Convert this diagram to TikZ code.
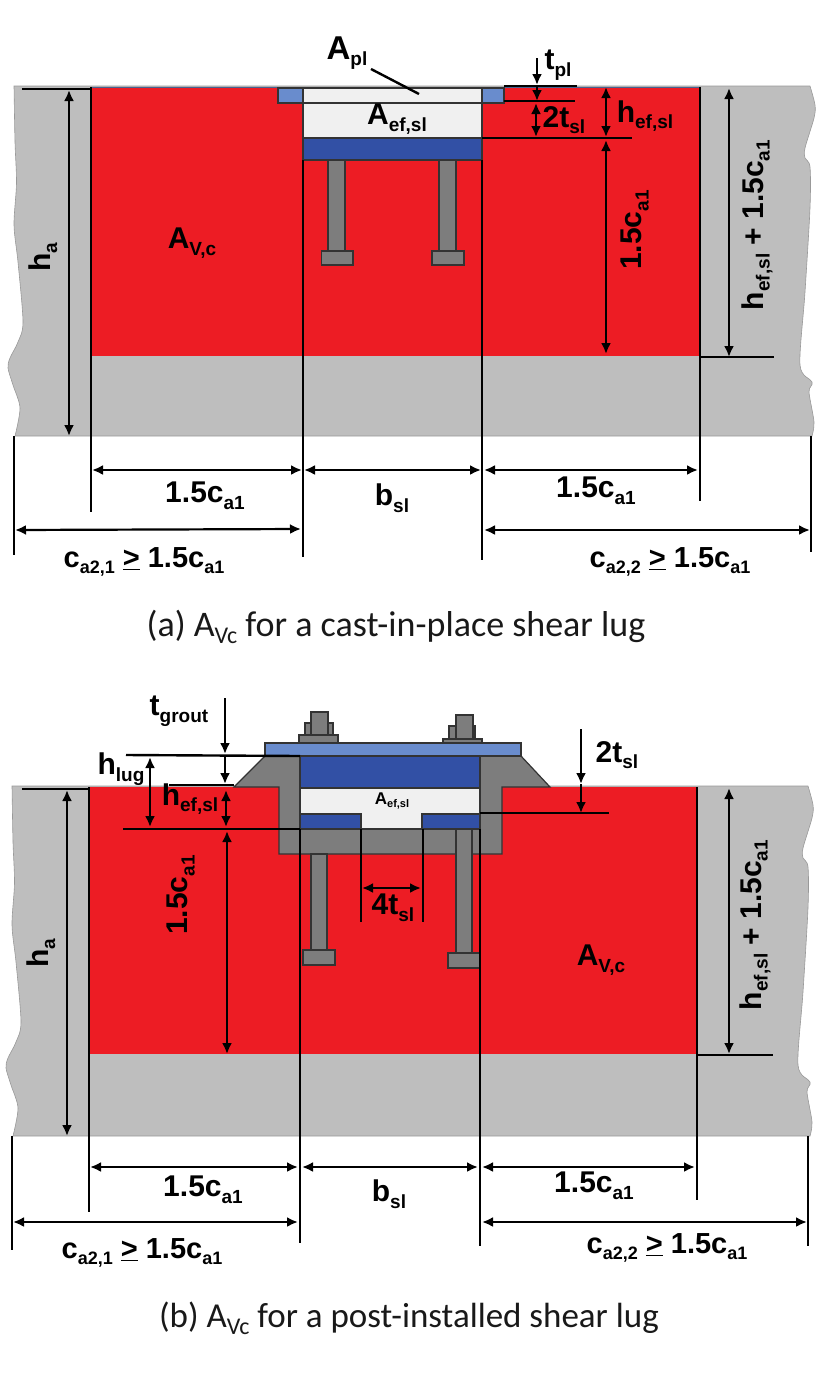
\documentclass[tikz,border=0pt]{standalone}
\usepackage{fontspec}
\setmainfont{Liberation Sans}
\newfontfamily\capfont{Carlito}
\usetikzlibrary{arrows.meta}
\definecolor{conc}{RGB}{190,190,190}
\definecolor{redz}{RGB}{237,28,36}
\definecolor{steel}{RGB}{125,125,125}
\definecolor{dblue}{RGB}{50,80,165}
\definecolor{lblue}{RGB}{105,140,205}
\definecolor{pale}{RGB}{240,240,240}
\newcommand{\lb}[2]{\textbf{#1\raisebox{-0.22em}{\fontsize{19}{19}\selectfont #2}}}
\newcommand{\lbs}[2]{\textbf{#1\raisebox{-0.22em}{\fontsize{18}{18}\selectfont #2}}}
\newcommand{\concrete}{%
  \fill[conc,draw=black!40,line width=.6pt] plot[smooth,tension=.5] coordinates {(14,86) (15,142) (16.5,183) (14,225) (18,262) (23,322) (18,342) (10,358) (8,368) (13,385) (20,408) (15,436)}
   -- plot[smooth,tension=.5] coordinates {(812,436) (814,422) (809,392) (812,382) (800,365) (805,292) (810,208) (810,167) (805,158) (805,148) (814,118) (815,105) (810,86)} -- cycle;}
\tikzset{
  lab/.style={font=\fontsize{30}{30}\selectfont\bfseries,inner sep=0pt,text=black},
  botlab/.style={lab,font=\fontsize{29}{29}\selectfont\bfseries},
  rotlab/.style={lab,rotate=90},
  capt/.style={font=\fontsize{36}{36}\selectfont\capfont,inner sep=0pt,text=black!90},
  ln/.style={line width=2.4pt,black},
  dim/.style={line width=2.2pt,black,{Latex[length=11pt,width=10pt]}-{Latex[length=11pt,width=10pt]}},
  arr/.style={line width=2.2pt,black,-{Latex[length=11pt,width=10pt]}},
  part/.style={draw=black!80,line width=1.2pt},
  stl/.style={part,fill=steel},
}
\begin{document}
\begin{tikzpicture}[x=1pt,y=-1pt]
\useasboundingbox (0,0) rectangle (827,1374);
% ---------- (a)
\concrete
\fill[redz] (91,87) rectangle (700,356);
\draw[lblue!70!black,line width=1pt] (91,87) -- (700,87);
\draw[stl,fill=lblue] (278,88) rectangle (504,103);
\draw[part,fill=pale] (303,88) rectangle (482,103);
\draw[part,fill=pale] (303,103) rectangle (482,138);
\draw[part,fill=dblue] (303,138) rectangle (482,160);
\draw[stl] (328,160) rectangle (345,251);
\draw[stl] (321.5,251) rectangle (353,265);
\draw[stl] (439,160) rectangle (456,251);
\draw[stl] (432,251) rectangle (464,265);
\draw[ln] (91,87) -- (91,512);
\draw[ln] (303,160) -- (303,557);
\draw[ln] (482,160) -- (482,560);
\draw[ln] (700,87) -- (700,501);
\draw[ln] (14,436) -- (14,555);
\draw[ln] (811,436) -- (811,552);
\draw[ln] (22,89) -- (91,89);
\draw[ln] (700,357) -- (774,357);
\draw[line width=1.6pt] (482,138) -- (632,138);
\draw[ln] (504,86) -- (577,86);
\draw[ln] (504,101) -- (575,101);
\draw[ln] (371,69) -- (419,94);
\draw[dim] (69,90) -- (69,436);
\draw[dim] (729,88) -- (729,357);
\draw[dim] (606,140) -- (606,354);
\draw[dim] (606,87) -- (606,137);
\draw[arr] (537,58) -- (537,85);
\draw[arr] (537,87) -- (537,101);
\draw[dim] (536,103) -- (536,137);
\draw[dim] (92,470) -- (302,470);
\draw[dim] (304,470) -- (481,470);
\draw[dim] (484,470) -- (698,470);
\draw[dim] (15,530) -- (301,529);
\draw[dim] (484,530) -- (810,530);
\node[lab] (a1) at (347,53) {\textbf{\fontsize{33}{33}\selectfont A}\lb{}{pl}};
\node[lab] (a2) at (558,65) {\lb{t}{pl}};
\node[lab] (a3) at (397,119) {\lb{A}{ef,sl}};
\node[lab] (a4) at (564,120) {\lb{2t}{sl}};
\node[lab] (a5) at (645,116) {\lb{h}{ef,sl}};
\node[lab] (a6) at (192,243) {\lb{A}{V,c}};
\node[rotlab] (a7) at (43,257) {\lb{h}{a}};
\node[rotlab] (a8) at (635,230) {\lb{1.5c}{a1}};
\node[rotlab] (a9) at (757,225) {\lb{h}{ef,sl} \lb{+ 1.5c}{a1}};
\node[lab] (a10) at (205,496) {\lb{1.5c}{a1}};
\node[lab] (a11) at (392,498) {\lb{b}{sl}};
\node[lab] (a12) at (596,491) {\lb{1.5c}{a1}};
\node[botlab] (a13) at (144,562) {\lbs{c}{a2,1}\ \underline{>}\ \lbs{1.5c}{a1}};
\node[botlab] (a14) at (670,562) {\lbs{c}{a2,2}\ \underline{>}\ \lbs{1.5c}{a1}};
\node[capt] (a15) at (396,627) {(a) A\raisebox{-0.2em}{\fontsize{24}{24}\selectfont Vc} for a cast-in-place shear lug};
% ---------- (b)
\begin{scope}[shift={(-2,700)}]\concrete\end{scope}
\fill[redz] (89,787) rectangle (697,1054);
\draw[part,fill=steel] (265,756) -- (234,787) -- (279,787) -- (279,854) -- (502,854) -- (502,787) -- (550,787) -- (521,756) -- cycle;
\draw[part,fill=dblue] (300,756) rectangle (480,788);
\draw[part,fill=pale] (300,788) -- (480,788) -- (480,829) -- (300,829) -- cycle;
\draw[part,fill=dblue] (300,814) -- (361,814) -- (361,829) -- (300,829) -- cycle;
\draw[part,fill=dblue] (422,814) -- (480,814) -- (480,829) -- (422,829) -- cycle;
\draw[part,fill=lblue] (265,743) rectangle (521,756);
\draw[stl] (299,735) rectangle (338,743);
\draw[stl] (305,723) rectangle (333,735);
\draw[stl] (311,712) rectangle (328,735);
\draw[stl] (443,739) rectangle (482,743);
\draw[stl] (449,726) rectangle (475,739);
\draw[stl] (456,715) rectangle (473,739);
\draw[stl] (311,854) rectangle (327,950);
\draw[stl] (303,950) rectangle (335,965);
\draw[stl] (456,829) rectangle (472,953);
\draw[stl] (448,953) rectangle (480,968);
\draw[ln] (89,787) -- (89,1212);
\draw[ln] (300,829) -- (300,1243);
\draw[ln] (480,829) -- (480,1246);
\draw[ln] (697,787) -- (697,1200);
\draw[ln] (12,1136) -- (12,1250);
\draw[ln] (808,1136) -- (808,1246);
\draw[ln] (361,829) -- (361,922);
\draw[ln] (423,829) -- (423,922);
\draw[ln] (22,789) -- (89,789);
\draw[ln] (697,1055) -- (773,1055);
\draw[ln] (123,829) -- (300,829);
\draw[ln] (126,755) -- (300,756);
\draw[ln] (169,785) -- (234,785);
\draw[line width=1.6pt] (480,813) -- (609,813);
\draw[dim] (67,790) -- (67,1136);
\draw[dim] (729,788) -- (729,1054);
\draw[dim] (227,831) -- (227,1054);
\draw[dim] (226,790) -- (226,827);
\draw[arr] (225,698) -- (225,754);
\draw[arr] (225,756) -- (225,784);
\draw[dim] (150,757) -- (150,827);
\draw[arr] (581,729) -- (581,784);
\draw[arr] (581,784) -- (581,813);
\draw[dim] (362,888) -- (421,888);
\draw[dim] (90,1167) -- (298,1167);
\draw[dim] (302,1167) -- (478,1167);
\draw[dim] (482,1167) -- (695,1167);
\draw[dim] (13,1222) -- (298,1222);
\draw[dim] (482,1222) -- (807,1222);
\node[lab] (b1) at (179,711) {\lb{t}{grout}};
\node[lab] (b2) at (121,769) {\lb{h}{lug}};
\node[lab] (b3) at (190,799) {\lb{h}{ef,sl}};
\node[lab] (b4) at (617,755) {\lb{2t}{sl}};
\node[lab,font=\fontsize{17}{17}\selectfont\bfseries] (b5) at (392,801) {A\raisebox{-0.2em}{\fontsize{11}{11}\selectfont ef,sl}};
\node[lab] (b6) at (393,908) {\lb{4t}{sl}};
\node[lab] (b7) at (601,960) {\lb{A}{V,c}};
\node[rotlab] (b8) at (41,953) {\lb{h}{a}};
\node[rotlab] (b9) at (181,895) {\lb{1.5c}{a1}};
\node[rotlab] (b10) at (755,925) {\lb{h}{ef,sl} \lb{+ 1.5c}{a1}};
\node[lab] (b11) at (203,1190) {\lb{1.5c}{a1}};
\node[lab] (b12) at (389,1194) {\lb{b}{sl}};
\node[lab] (b13) at (594,1186) {\lb{1.5c}{a1}};
\node[botlab] (b14) at (142,1253) {\lbs{c}{a2,1}\ \underline{>}\ \lbs{1.5c}{a1}};
\node[botlab] (b15) at (667,1248) {\lbs{c}{a2,2}\ \underline{>}\ \lbs{1.5c}{a1}};
\node[capt,font=\fontsize{35}{35}\selectfont\capfont] (b16) at (409,1318) {(b) A\raisebox{-0.2em}{\fontsize{24}{24}\selectfont Vc} for a post-installed shear lug};
\end{tikzpicture}
\end{document}
